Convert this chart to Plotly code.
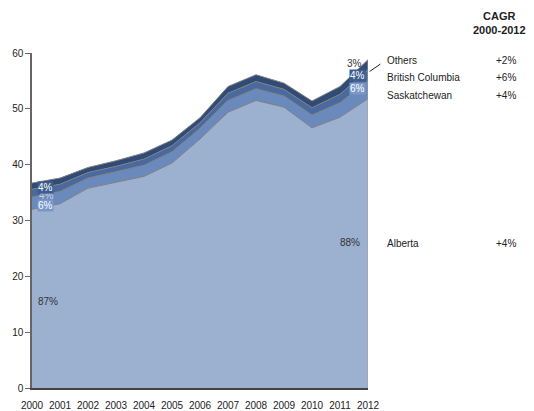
import plotly.graph_objects as go

years = list(range(2000, 2013))
regions = ["Alberta", "Saskatchewan", "British Columbia", "Others"]
alberta = [32.0, 33.0, 35.8, 36.8, 37.9, 40.3, 44.6, 49.4, 51.5, 50.3, 46.6, 48.5, 51.8]
saskatchewan = [2.2, 2.2, 1.8, 1.9, 2.0, 2.0, 1.9, 2.1, 2.1, 2.0, 2.3, 2.6, 3.2]
british_columbia = [1.4, 1.3, 1.0, 1.0, 1.1, 1.1, 1.0, 1.3, 1.3, 1.2, 1.3, 1.5, 2.0]
others = [1.1, 1.1, 0.9, 1.0, 1.1, 1.0, 0.9, 1.2, 1.2, 1.1, 1.2, 1.4, 1.8]
start_share = ["87%", "6%", "4%", "4%"]
end_share = ["88%", "6%", "4%", "3%"]
cagr = ["+4%", "+4%", "+6%", "+2%"]

series = [alberta, saskatchewan, british_columbia, others]
fills = ["#9CB0D0", "#6A89BD", "#4A6A9F", "#2F4B76"]
font = "Liberation Sans, Arial, sans-serif"

fig = go.Figure()
for name, vals, col in zip(regions, series, fills):
    fig.add_trace(go.Scatter(x=years, y=vals, name=name, stackgroup="s", mode="lines",
                             line=dict(color="#7f7f7f", width=1), fillcolor=col,
                             hoverinfo="skip"))

totals = [sum(v) for v in zip(*series)]
# right edge of area
fig.add_trace(go.Scatter(x=[years[-1], years[-1]], y=[0, totals[-1]], mode="lines",
                         line=dict(color="#a0a0a0", width=1), showlegend=False, hoverinfo="skip"))

def cum(i, k):
    return sum(series[j][k] for j in range(i))

ann = []
# start labels
ann.append(dict(x=years[0], y=15.5, text=start_share[0], xanchor="left", showarrow=False,
                xshift=4, font=dict(size=10, color="#333")))
ann.append(dict(x=years[0], y=cum(1, 0) + 0.6, text=start_share[1], xanchor="left",
                showarrow=False, xshift=5, bgcolor="#7A97C8", borderpad=0,
                font=dict(size=10, color="white")))
ann.append(dict(x=years[0], y=cum(2, 0) + 0.3, text=start_share[2], xanchor="left",
                showarrow=False, xshift=5, font=dict(size=10, color="#c8d4e8")))
ann.append(dict(x=years[0], y=cum(3, 0) + 0.4, text=start_share[3], xanchor="left",
                showarrow=False, xshift=5, bgcolor="#3D5D8F", borderpad=0,
                font=dict(size=10, color="white")))
# end labels
k = len(years) - 1
ann.append(dict(x=years[k], y=26, text=end_share[0], xanchor="right", showarrow=False,
                xshift=-6, font=dict(size=10, color="#333")))
ann.append(dict(x=years[k], y=cum(1, k) + saskatchewan[k] * 0.55, text=end_share[1], xanchor="right",
                showarrow=False, xshift=-2, bgcolor="#7A97C8", borderpad=0,
                font=dict(size=10, color="white")))
ann.append(dict(x=years[k], y=cum(2, k) + british_columbia[k] * 0.5, text=end_share[2], xanchor="right",
                showarrow=False, xshift=-2, bgcolor="#3D5D8F", borderpad=0,
                font=dict(size=10, color="white")))
ann.append(dict(x=years[k], y=cum(3, k) + others[k] * 0.6, text=end_share[3], xanchor="right",
                showarrow=False, xshift=-4, font=dict(size=10, color="#333")))

# right legend
legend_y = {"Others": 58.6, "British Columbia": 55.6, "Saskatchewan": 52.3, "Alberta": 25.8}
for name, c in zip(regions, cagr):
    ann.append(dict(xref="paper", x=1.05, y=legend_y[name], text=name, xanchor="left",
                    showarrow=False, font=dict(size=10, color="#222")))
    ann.append(dict(xref="paper", x=1.41, y=legend_y[name], text=c, xanchor="center",
                    showarrow=False, font=dict(size=10, color="#222")))
ann.append(dict(xref="paper", yref="paper", x=1.39, y=1.045, text="<b>CAGR<br>2000-2012</b>",
                xanchor="center", yanchor="bottom", showarrow=False, align="center",
                font=dict(size=11, color="#222")))
fig.update_layout(annotations=ann)
fig.add_shape(type="line", xref="paper", yref="paper", x0=1.005, y0=0.945, x1=1.037, y1=0.967,
              line=dict(color="#222", width=1))

fig.update_layout(
    width=526, height=403, margin=dict(l=24, r=166, t=45, b=23, autoexpand=False),
    paper_bgcolor="white", plot_bgcolor="white", showlegend=False,
    font=dict(family=font, size=10, color="#222"),
    xaxis=dict(range=[2000, 2012], tickvals=years, showgrid=False, zeroline=False,
               showline=True, linecolor="#444", linewidth=1.5, ticks="outside", ticklen=7,
               tickcolor="white", tickfont=dict(size=10), automargin=False),
    yaxis=dict(range=[0, 60], dtick=10, showgrid=False, zeroline=False, showline=True,
               linecolor="#666", linewidth=1.5, ticks="outside", ticklen=5, tickcolor="#666",
               tickfont=dict(size=10), automargin=False),
)
fig.write_html("out.html")
